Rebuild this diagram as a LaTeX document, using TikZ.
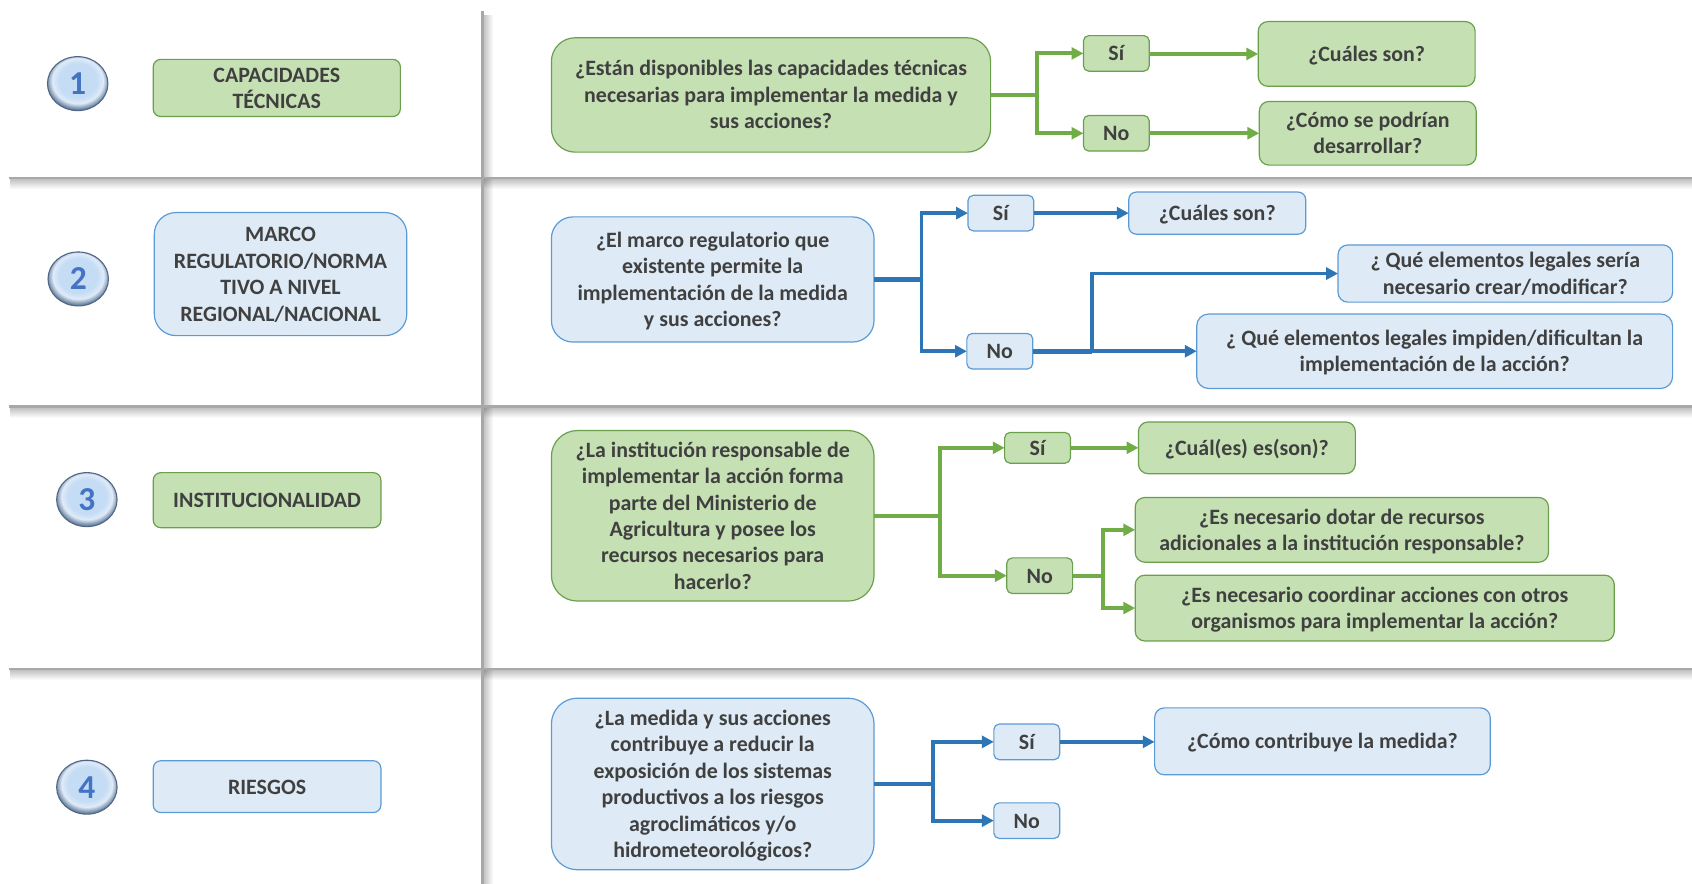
\documentclass[tikz,border=0pt]{standalone}
\usepackage{fontspec}
\setmainfont{Carlito}
\usetikzlibrary{arrows.meta,calc,shapes.geometric,fadings}
\definecolor{gfill}{HTML}{C5E0B3}
\definecolor{gline}{HTML}{6A9F4C}
\definecolor{gconn}{HTML}{70AD47}
\definecolor{bfill}{HTML}{DEEAF6}
\definecolor{bline}{HTML}{5B9BD5}
\definecolor{bconn}{HTML}{2E75B6}
\definecolor{txt}{HTML}{404040}
\definecolor{rule}{HTML}{A8A8A8}
\definecolor{numc}{HTML}{4472C4}
\definecolor{ballin}{HTML}{C5DCF5}
\definecolor{ballhi}{HTML}{DFEBF8}
\definecolor{ballmid}{HTML}{7F96B0}
\definecolor{balldk}{HTML}{34496A}
\definecolor{ballrim}{HTML}{4F6686}
\pgfdeclareradialshading{ballshade}{\pgfpoint{0bp}{4bp}}{%
 color(0bp)=(ballin);
 color(16bp)=(ballin);
 color(21bp)=(ballhi);
 color(25bp)=(ballmid);
 color(29bp)=(balldk);
 color(60bp)=(balldk)}
\tikzset{
 boxbase/.style={draw,rounded corners=#1,line width=1.1pt,inner sep=0pt,outer sep=0pt,align=center,
   font=\fontsize{20.3}{24.5}\selectfont\bfseries,text=txt},
 gbox/.style={boxbase=#1,fill=gfill,draw=gline},
 bbox/.style={boxbase=#1,fill=bfill,draw=bline},
 gbranch/.style={draw=gconn,line width=3.6pt,-{Triangle[length=11pt,width=11pt]}},
 bbranch/.style={draw=bconn,line width=3.6pt,-{Triangle[length=11pt,width=11pt]}},
 gstem/.style={draw=gconn,line width=4.5pt},
 bstem/.style={draw=bconn,line width=4.5pt},
 rulemain/.style={draw=rule,line width=2.6pt},
 ball/.style={ellipse,minimum width=56pt,minimum height=50pt,inner sep=0pt,outer sep=0pt,text=numc,
   font=\fontsize{31}{31}\selectfont\bfseries,shading=ballshade,draw=ballrim,line width=1pt}
}
% \bx{name}{style}{x1}{y1}{x2}{y2}{text}
\newcommand{\bx}[7]{%
 \pgfmathsetmacro{\bxw}{#5-#3}\pgfmathsetmacro{\bxh}{#6-#4}%
 \node[#2,minimum width=\bxw pt,minimum height=\bxh pt] (#1) at ({(#3+#5)/2},{(#4+#6)/2})
   {\raisebox{0pt}[\dimexpr\height+4pt\relax]{\begin{tabular}{@{}c@{}}#7\end{tabular}}};}
\begin{document}
\begin{tikzpicture}[x=1pt,y=-1pt]
\useasboundingbox (0,0) rectangle (1568,819);
% soft shadows of the grid lines
\foreach \yy in {165,377,620}{\fill[black,opacity=.24,path fading=south] (10,\yy+1) rectangle (1600,\yy+10);}
\fill[black,opacity=.24,path fading=east] (448,12) rectangle (457,840);
\foreach \yy in {165,377,620}{\draw[rulemain] (8,\yy) -- (1568,\yy);}
\draw[rulemain] (447,10) -- (447,819);
% circles
\node[ball] (n1) at (72,77.5) {1};
\node[ball] (n2) at (72.5,258.5) {2};
\node[ball] (n3) at (80.5,463) {3};
\node[ball] (n4) at (80.5,729.5) {4};
% row 1
\bx{c1}{gbox=7pt}{142}{56}{371}{107}{CAPACIDADES\\TÉCNICAS}
\bx{q1}{gbox=22pt}{511}{35}{918}{141}{¿Están disponibles las capacidades técnicas\\necesarias para implementar la medida y\\sus acciones?}
\bx{s1}{gbox=5pt}{1004}{33}{1065}{66}{Sí}
\bx{n1b}{gbox=5pt}{1004}{107}{1065}{140}{No}
\bx{a1}{gbox=9pt}{1166}{20}{1367}{80}{¿Cuáles son?}
\bx{a1b}{gbox=9pt}{1167}{94}{1368}{153}{¿Cómo se podrían\\desarrollar?}
\coordinate (j1) at (961,88);
\draw[gstem] (q1.east) -- (j1);
\draw[gbranch] (j1) |- (s1.west);
\draw[gbranch] (j1) |- (n1b.west);
\draw[gbranch] (s1.east |- a1.west) -- (a1.west);
\draw[gbranch] (n1b.east) -- (n1b.east -| a1b.west);
% row 2
\bx{c2}{bbox=20pt}{143}{197}{377}{311}{MARCO\\REGULATORIO/NORMA\\TIVO A NIVEL\\REGIONAL/NACIONAL}
\bx{q2}{bbox=20pt}{511}{201}{810}{317}{¿El marco regulatorio que\\existente permite la\\implementación de la medida\\y sus acciones?}
\bx{s2}{bbox=5pt}{897}{181}{958}{214}{Sí}
\bx{n2b}{bbox=5pt}{896}{309}{957}{342}{No}
\bx{a2}{bbox=7pt}{1046}{178}{1210}{217}{¿Cuáles son?}
\bx{a2b}{bbox=9pt}{1240}{227}{1550}{280}{¿ Qué elementos legales sería\\necesario crear/modificar?}
\bx{a2c}{bbox=11pt}{1109}{291}{1550}{360}{¿ Qué elementos legales impiden/dificultan la\\implementación de la acción?}
\coordinate (j2) at (854,259);
\coordinate (j2b) at (1012,325.5);
\draw[bstem] (q2.east) -- (j2);
\draw[bbranch] (j2) |- (s2.west);
\draw[bbranch] (j2) |- (n2b.west);
\draw[bbranch] (s2.east) -- (a2.west);
\draw[bstem] (n2b.east) -- (j2b);
\draw[bbranch] (j2b) |- (a2b.west);
\draw[bbranch] (j2b) -- (a2c.west);
% row 3
\bx{c3}{gbox=7pt}{142}{438}{353}{489}{INSTITUCIONALIDAD}
\bx{q3}{gbox=24pt}{511}{399}{810}{557}{¿La institución responsable de\\implementar la acción forma\\parte del Ministerio de\\Agricultura y posee los\\recursos necesarios para\\hacerlo?}
\bx{s3}{gbox=5pt}{931}{401}{992}{429}{Sí}
\bx{n3b}{gbox=5pt}{933}{517}{994}{550}{No}
\bx{a3}{gbox=9pt}{1055}{391}{1256}{439}{¿Cuál(es) es(son)?}
\bx{a3b}{gbox=9pt}{1052}{461}{1435}{521}{¿Es necesario dotar de recursos\\adicionales a la institución responsable?}
\bx{a3c}{gbox=9pt}{1052}{533}{1496}{594}{¿Es necesario coordinar acciones con otros\\organismos para implementar la acción?}
\coordinate (j3) at (871,478);
\coordinate (j3b) at (1022,533.5);
\draw[gconn,line width=3.6pt] (q3.east) -- (j3);
\draw[gbranch] (j3) |- (s3.west);
\draw[gbranch] (j3) |- (n3b.west);
\draw[gbranch] (s3.east) -- (a3.west);
\draw[gconn,line width=3.6pt] (n3b.east) -- (j3b);
\draw[gbranch] (j3b) |- (a3b.west);
\draw[gbranch] (j3b) |- (a3c.west);
% row 4
\bx{c4}{bbox=7pt}{142}{705}{353}{753}{RIESGOS}
\bx{q4}{bbox=24pt}{511}{647}{810}{806}{¿La medida y sus acciones\\contribuye a reducir la\\exposición de los sistemas\\productivos a los riesgos\\agroclimáticos y/o\\hidrometeorológicos?}
\bx{s4}{bbox=5pt}{921}{671}{982}{704}{Sí}
\bx{n4b}{bbox=5pt}{921}{744}{982}{777}{No}
\bx{a4}{bbox=9pt}{1070}{656}{1381}{718}{¿Cómo contribuye la medida?}
\coordinate (j4) at (865,726.5);
\draw[bstem] (q4.east) -- (j4);
\draw[bbranch] (j4) |- (s4.west);
\draw[bbranch] (j4) |- (n4b.west);
\draw[bbranch] (s4.east) -- (s4.east -| a4.west);
\end{tikzpicture}
\end{document}
